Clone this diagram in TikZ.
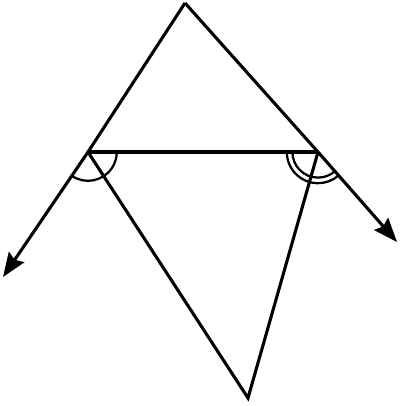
\documentclass[tikz,border=0pt]{standalone}
\usepackage{tikz}
\usetikzlibrary{angles,arrows.meta}
\tikzset{
  line/.style={draw=black, line width=2.2pt},
  ray/.style={line, -{Stealth[length=6mm,width=4.6mm,inset=0.8mm]}},
  anglearc/.style={draw=black, line width=1.6pt}
}
\begin{document}
\begin{tikzpicture}[x=0.025cm, y=-0.025cm]
  \useasboundingbox (0,0) rectangle (400,406);

  \coordinate (P) at (185,3);
  \coordinate (B) at (88,152);
  \coordinate (C) at (318,152);
  \coordinate (D) at (248,398);
  \coordinate (L) at (3,277);
  \coordinate (R) at (397,242);

  \draw[line] (P)--(B);
  \draw[line] (P)--(C);
  \draw[line] (B)--(C);
  \draw[line] (B)--(D)--(C);

  \draw[ray] (B)--(L);
  \draw[ray] (C)--(R);

  \pic[anglearc, angle radius=0.72cm] {angle=L--B--C};
  \pic[anglearc, angle radius=0.64cm] {angle=B--C--R};
  \pic[anglearc, angle radius=0.78cm] {angle=B--C--R};
\end{tikzpicture}
\end{document}
